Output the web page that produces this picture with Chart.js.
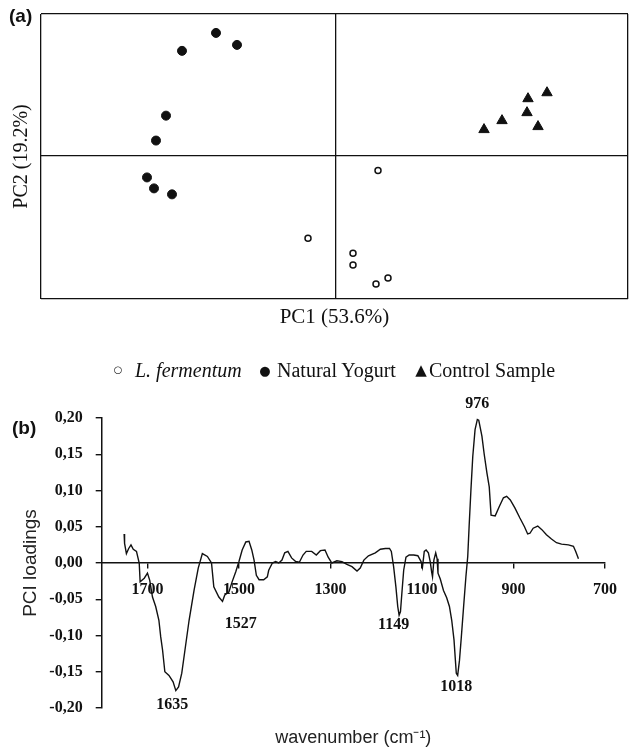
<!DOCTYPE html>
<html lang="en">
<head>
<meta charset="UTF-8">
<title>PCA scores and PC1 loadings</title>
<script src="https://cdn.jsdelivr.net/npm/chart.js"></script>
<style>
  body { margin: 0; background: #fff; color: #111; font-family: "Liberation Serif", serif; }
  #page { position: relative; width: 629px; height: 750px; overflow: hidden; }
  .box { position: absolute; left: 0; width: 629px; }
  .tag { position: absolute; font-family: "Liberation Sans", Arial, sans-serif; font-weight: bold; font-size: 19px; line-height: 22px; }
  .lg { position: absolute; top: 358px; font-size: 20px; line-height: 24px; white-space: nowrap; }
  .mk { position: absolute; top: 370px; transform: translate(-50%, -50%); font-family: "DejaVu Sans", sans-serif; line-height: 1; }
</style>
</head>
<body>
<div id="page">
  <div class="box" style="top:0; height:330px;"><canvas id="scores"></canvas></div>
  <div class="box" style="top:380px; height:370px;"><canvas id="loadings"></canvas></div>

  <div class="tag" style="left:9px; top:5px;">(a)</div>
  <div class="tag" style="left:12px; top:417px;">(b)</div>

  <span class="mk" style="left:118px; font-size:10px;">○</span>
  <span class="lg" style="left:135px; font-style:italic;">L. fermentum</span>
  <span class="mk" style="left:265px; font-size:13px;">●</span>
  <span class="lg" style="left:277px;">Natural Yogurt</span>
  <span class="mk" style="left:421px; font-size:15px;">▲</span>
  <span class="lg" style="left:429px;">Control Sample</span>
</div>

<script>
// (a) PCA scores
const pc1Range = [-2.95, 2.92];
const pc2Range = [-1.44, 1.42];

const lfermentumPC1 = [0.42, -0.28, 0.17, 0.17, 0.52, 0.40];
const lfermentumPC2 = [-0.15, -0.83, -0.98, -1.10, -1.23, -1.29];
const yogurtPC1 = [-1.20, -0.99, -1.54, -1.70, -1.80, -1.89, -1.82, -1.64];
const yogurtPC2 = [1.23, 1.11, 1.05, 0.40, 0.15, -0.22, -0.33, -0.39];
const controlPC1 = [2.11, 1.92, 1.91, 1.66, 1.48, 2.02];
const controlPC2 = [0.63, 0.57, 0.43, 0.35, 0.26, 0.29];

// (b) PC1 loadings
const wavenumbers = [
  1751, 1750, 1746, 1741, 1736, 1731, 1724, 1718, 1716, 1707, 1700, 1695, 1689, 1682,
  1675, 1671, 1667, 1662, 1653, 1644, 1638, 1632, 1625, 1618, 1609, 1598, 1589, 1580,
  1569, 1560, 1555, 1544, 1536, 1531, 1522, 1515, 1507, 1500, 1493, 1485, 1478, 1472,
  1467, 1462, 1456, 1446, 1438, 1435, 1427, 1420, 1413, 1406, 1400, 1393, 1385, 1376,
  1368, 1360, 1353, 1341, 1331, 1322, 1312, 1305, 1297, 1286, 1275, 1264, 1253, 1242,
  1235, 1227, 1217, 1202, 1191, 1180, 1171, 1167, 1162, 1157, 1153, 1150, 1147, 1144,
  1140, 1135, 1128, 1118, 1109, 1102, 1099, 1095, 1091, 1086, 1082, 1079, 1077, 1074,
  1070, 1067, 1065, 1060, 1053, 1046, 1040, 1035, 1030, 1027, 1025, 1022, 1018, 1014,
  1009, 1004, 1000, 997, 993, 989, 984, 979, 976, 974, 969, 964, 958, 953,
  949, 940, 931, 922, 915, 907, 897, 886, 876, 869, 864, 857, 847, 838,
  828, 817, 806, 795, 780, 769, 764, 758
];
const loadings = [
  0.040, 0.027, 0.013, 0.020, 0.025, 0.019, 0.016, 0.000, -0.026, -0.021, -0.014, -0.024, -0.047, -0.060,
  -0.079, -0.102, -0.120, -0.150, -0.155, -0.164, -0.176, -0.171, -0.152, -0.120, -0.079, -0.037, -0.007, 0.013,
  0.009, 0.000, -0.033, -0.047, -0.053, -0.044, -0.040, -0.026, -0.012, 0.002, 0.018, 0.029, 0.030, 0.018,
  0.004, -0.017, -0.023, -0.023, -0.019, -0.010, 0.000, 0.002, 0.000, 0.004, 0.014, 0.016, 0.007, 0.002,
  0.001, 0.011, 0.016, 0.016, 0.011, 0.017, 0.018, 0.008, 0.000, 0.003, 0.002, -0.002, -0.005, -0.011,
  -0.007, 0.004, 0.010, 0.014, 0.019, 0.020, 0.020, 0.016, -0.005, -0.033, -0.060, -0.072, -0.067, -0.042,
  -0.010, 0.008, 0.011, 0.011, 0.010, 0.002, -0.006, 0.016, 0.018, 0.014, 0.002, -0.012, -0.019, 0.004,
  0.014, 0.006, -0.014, -0.022, -0.038, -0.048, -0.060, -0.079, -0.106, -0.134, -0.152, -0.155, -0.134, -0.102,
  -0.060, -0.019, 0.009, 0.050, 0.101, 0.147, 0.184, 0.198, 0.197, 0.191, 0.175, 0.150, 0.124, 0.105,
  0.066, 0.065, 0.078, 0.090, 0.092, 0.087, 0.076, 0.062, 0.050, 0.040, 0.041, 0.048, 0.051, 0.046,
  0.039, 0.033, 0.028, 0.026, 0.025, 0.023, 0.016, 0.006
];
const xTickValues = [1700, 1500, 1300, 1100, 900, 700];
const yTickValues = [-0.20, -0.15, -0.10, -0.05, 0.00, 0.05, 0.10, 0.15, 0.20];

// peak labels, anchored in data units
const peakLabels = ['976', '1635', '1527', '1149', '1018'];
const peakLabelX = [979, 1646, 1496, 1162, 1025];
const peakLabelY = [0.220, -0.196, -0.084, -0.086, -0.171];

const ink = '#111';
const serif = 'Liberation Serif';
const sans = 'Liberation Sans';

function points(xs, ys) {
  return xs.map((x, i) => ({ x: x, y: ys[i] }));
}

new Chart(document.getElementById('scores'), {
  type: 'scatter',
  data: {
    datasets: [{
      label: 'L. fermentum',
      data: points(lfermentumPC1, lfermentumPC2),
      pointStyle: 'circle', pointRadius: 3, borderWidth: 1.5,
      backgroundColor: '#fff', borderColor: ink
    }, {
      label: 'Natural Yogurt',
      data: points(yogurtPC1, yogurtPC2),
      pointStyle: 'circle', pointRadius: 4.5, borderWidth: 1,
      backgroundColor: ink, borderColor: ink
    }, {
      label: 'Control Sample',
      data: points(controlPC1, controlPC2),
      pointStyle: 'triangle', pointRadius: 6, borderWidth: 1,
      backgroundColor: ink, borderColor: ink
    }]
  },
  options: {
    animation: false,
    responsive: true,
    maintainAspectRatio: false,
    layout: { autoPadding: false, padding: { top: 14, right: 1, left: 0, bottom: 0 } },
    plugins: { legend: { display: false }, tooltip: { enabled: false } },
    scales: {
      x: {
        type: 'linear', min: pc1Range[0], max: pc1Range[1],
        afterBuildTicks: s => { s.ticks = [s.min, 0, s.max].map(v => ({ value: v })); },
        afterFit: s => { s.height = 31; },
        grid: { color: ink, lineWidth: 1.3, drawTicks: false },
        border: { display: false },
        ticks: { display: false },
        title: { display: true, text: 'PC1 (53.6%)', color: ink, font: { family: serif, size: 21 }, padding: { top: 0, bottom: 0 } }
      },
      y: {
        type: 'linear', min: pc2Range[0], max: pc2Range[1],
        afterBuildTicks: s => { s.ticks = [s.min, 0, s.max].map(v => ({ value: v })); },
        afterFit: s => { s.width = 41; },
        grid: { color: ink, lineWidth: 1.3, drawTicks: false },
        border: { display: false },
        ticks: { display: false },
        title: { display: true, text: 'PC2 (19.2%)', color: ink, font: { family: serif, size: 20 }, padding: { top: 10, bottom: 0 } }
      }
    }
  }
});

const peakLabelPlugin = {
  id: 'peakLabels',
  afterDatasetsDraw(chart) {
    const { ctx, scales: { x, y } } = chart;
    ctx.save();
    ctx.font = 'bold 16px "' + serif + '"';
    ctx.fillStyle = ink;
    ctx.textAlign = 'center';
    ctx.textBaseline = 'middle';
    peakLabels.forEach((t, i) => {
      ctx.fillText(t, x.getPixelForValue(peakLabelX[i]), y.getPixelForValue(peakLabelY[i]));
    });
    ctx.restore();
  }
};

const tickFont = { family: serif, size: 16, weight: 'bold' };

new Chart(document.getElementById('loadings'), {
  type: 'line',
  data: {
    datasets: [{
      data: points(wavenumbers, loadings),
      borderColor: ink, borderWidth: 1.4,
      pointRadius: 0, tension: 0, fill: false
    }]
  },
  options: {
    animation: false,
    responsive: true,
    maintainAspectRatio: false,
    layout: { padding: { top: 38, right: 22, left: 0, bottom: 0 } },
    plugins: { legend: { display: false }, tooltip: { enabled: false } },
    scales: {
      x: {
        type: 'linear', reverse: true, min: 700, max: 1800,
        position: { y: 0 },
        afterBuildTicks: s => { s.ticks = xTickValues.map(v => ({ value: v })); },
        grid: { drawOnChartArea: false, drawTicks: true, tickLength: 5, color: ink, lineWidth: 1.4 },
        border: { color: ink, width: 1.5 },
        ticks: { callback: v => String(v), color: ink, font: tickFont, padding: 12, maxRotation: 0, autoSkip: false }
      },
      xTitle: {
        type: 'linear', position: 'bottom', reverse: true, min: 700, max: 1800,
        afterFit: s => { s.height = 42; },
        grid: { display: false },
        border: { display: false },
        ticks: { display: false },
        title: { display: true, text: 'wavenumber (cm⁻¹)', color: '#222', font: { family: sans, size: 18 }, padding: { top: 0, bottom: 1 } }
      },
      y: {
        type: 'linear', min: -0.2, max: 0.2,
        afterBuildTicks: s => { s.ticks = yTickValues.map(v => ({ value: v })); },
        afterFit: s => { s.width = 101.7; },
        grid: { drawOnChartArea: false, drawTicks: true, tickLength: 6, color: ink, lineWidth: 1.4 },
        border: { color: ink, width: 1.5 },
        ticks: { callback: v => v.toFixed(2).replace('.', ','), color: ink, font: tickFont, padding: 13 },
        title: { display: true, text: 'PCI loadings', color: '#222', font: { family: sans, size: 19 }, padding: { top: 19, bottom: 0 } }
      }
    }
  },
  plugins: [peakLabelPlugin]
});
</script>
</body>
</html>
